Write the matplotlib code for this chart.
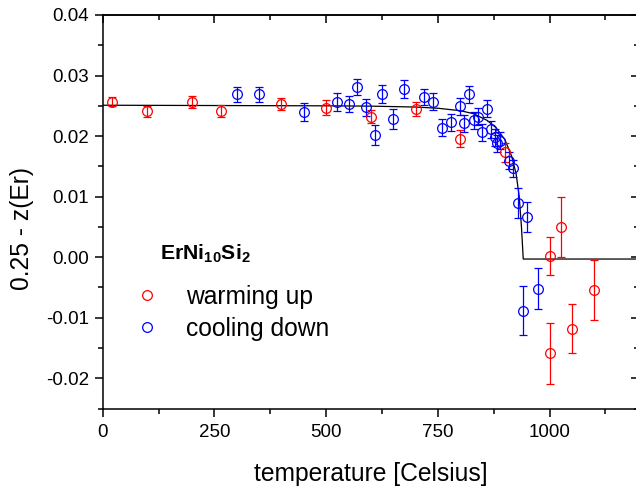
import matplotlib
matplotlib.use("Agg")
import matplotlib.pyplot as plt
from matplotlib.lines import Line2D
from matplotlib.ticker import MultipleLocator

plt.rcParams['font.family'] = ['Liberation Sans', 'DejaVu Sans']
plt.rcParams['mathtext.fontset'] = 'custom'
plt.rcParams['mathtext.rm'] = 'Liberation Sans'
plt.rcParams['mathtext.bf'] = 'Liberation Sans:bold'
plt.rcParams['mathtext.it'] = 'Liberation Sans:italic'

# ---- data ----
warm_T = [20, 100, 200, 265, 400, 500, 600, 700, 800, 900, 1000, 1025, 1000, 1050, 1100]
warm_y = [0.0257, 0.0241, 0.0257, 0.0242, 0.0253, 0.0247, 0.0232, 0.0245, 0.0196, 0.0173,
          0.0002, 0.0050, -0.0159, -0.0118, -0.0054]
warm_err = [0.0007, 0.0009, 0.0010, 0.0010, 0.0010, 0.0012, 0.0011, 0.0012, 0.0014, 0.0015,
            0.0031, 0.0050, 0.0050, 0.0040, 0.0050]

cool_T = [300, 350, 450, 525, 550, 570, 590, 610, 625, 650, 675, 720, 740, 760, 780, 800,
          808, 820, 830, 840, 849, 859, 869, 878, 882, 890, 910, 919, 930, 950, 940, 975]
cool_y = [0.0269, 0.0269, 0.0240, 0.0256, 0.0253, 0.0281, 0.0248, 0.0202, 0.0269, 0.0228,
          0.0278, 0.0264, 0.0257, 0.0214, 0.0223, 0.0249, 0.0221, 0.0269, 0.0226, 0.0232,
          0.0206, 0.0245, 0.0211, 0.0198, 0.0188, 0.0192, 0.0159, 0.0147, 0.0090, 0.0066,
          -0.0088, -0.0052]
cool_err = [0.0012, 0.0012, 0.0015, 0.0015, 0.0014, 0.0013, 0.0014, 0.0017, 0.0015, 0.0016,
            0.0015, 0.0013, 0.0014, 0.0014, 0.0014, 0.0014, 0.0014, 0.0014, 0.0014, 0.0014,
            0.0014, 0.0014, 0.0014, 0.0014, 0.0014, 0.0014, 0.0014, 0.0014, 0.0025, 0.0025,
            0.0040, 0.0034]

fit_T = [0, 500, 600, 700, 750, 800, 830, 860, 880, 900, 915, 925, 932, 937, 941, 1200]
fit_y = [0.0251, 0.0250, 0.02495, 0.0248, 0.0246, 0.0242, 0.0237, 0.0226, 0.0214, 0.0194,
         0.0167, 0.0138, 0.0100, 0.0050, -0.0003, -0.0003]

compound = r'$\mathbf{ErNi_{10}Si_{2}}$'
labels = ['warming up', 'cooling down']
xlabel = 'temperature [Celsius]'
ylabel = '0.25 - z(Er)'

# ---- figure ----
W, H = 636, 486
fig = plt.figure(figsize=(W / 100, H / 100), dpi=100)
x0, x1, ytop, ybot = 102.7, 639.0, 15.0, 408.6
ax = fig.add_axes([x0 / W, 1 - ybot / H, (x1 - x0) / W, (ybot - ytop) / H])

ax.plot(fit_T, fit_y, color='black', lw=0.9, zorder=2)
ekw = dict(fmt='o', ms=7, mfc='none', mew=0.9, elinewidth=0.9, capsize=3.2,
           capthick=0.9, zorder=3)
ax.errorbar(warm_T, warm_y, yerr=warm_err, color='#ff0000', **ekw)
ax.errorbar(cool_T, cool_y, yerr=cool_err, color='#0000ff', **ekw)

ax.set_xlim(0, 1200)
ax.set_ylim(-0.025, 0.04)
ax.xaxis.set_major_locator(MultipleLocator(250))
ax.xaxis.set_minor_locator(MultipleLocator(125))
ax.yaxis.set_major_locator(MultipleLocator(0.01))
ax.yaxis.set_minor_locator(MultipleLocator(0.005))
ax.yaxis.set_major_formatter(plt.FuncFormatter(lambda v, p: f'{v:.2f}'))

for s in ax.spines.values():
    s.set_linewidth(1.1)
ax.tick_params(which='both', direction='out', width=1.1, labelsize=13.5,
               top=False, right=False)
ax.tick_params(which='major', length=6)
ax.tick_params(which='minor', length=3.5)
ax.tick_params(axis='x', pad=5)
ax.tick_params(axis='y', pad=4)

top = ax.secondary_xaxis('top')
top.xaxis.set_major_locator(MultipleLocator(250))
top.xaxis.set_minor_locator(MultipleLocator(125))
top.tick_params(which='both', direction='in', width=1.1, labeltop=False)
top.tick_params(which='major', length=6)
top.tick_params(which='minor', length=3.5)
top.spines['top'].set_linewidth(1.1)

right = ax.secondary_yaxis('right')
right.yaxis.set_major_locator(MultipleLocator(0.01))
right.yaxis.set_minor_locator(MultipleLocator(0.005))
right.tick_params(which='both', direction='in', width=1.1, labelright=False)
right.tick_params(which='major', length=6)
right.tick_params(which='minor', length=3.5)

ax.set_xlabel(xlabel, fontsize=17.7)
ax.set_ylabel(ylabel, fontsize=17.7)
ax.xaxis.set_label_coords(0.5, (ybot - 462) / (ybot - ytop))
ax.yaxis.set_label_coords((34 - x0) / (x1 - x0), (ybot - 228) / (ybot - ytop))

# legend
handles = [Line2D([], [], ls='none', marker='o', ms=7, mfc='none', mew=0.9, color=c)
           for c in ['#ff0000', '#0000ff']]
leg = ax.legend(handles, labels, loc='upper left', frameon=False, fontsize=17.7,
                handlelength=1.0, handletextpad=1.1, labelspacing=0.31,
                borderpad=0, borderaxespad=0,
                bbox_to_anchor=(134.7 / W, 1 - 285 / H), bbox_transform=fig.transFigure)
fig.text(160 / W, 1 - 254 / H, compound, fontsize=15.3, ha='left', va='center')

fig.savefig('out.png', dpi=100)
